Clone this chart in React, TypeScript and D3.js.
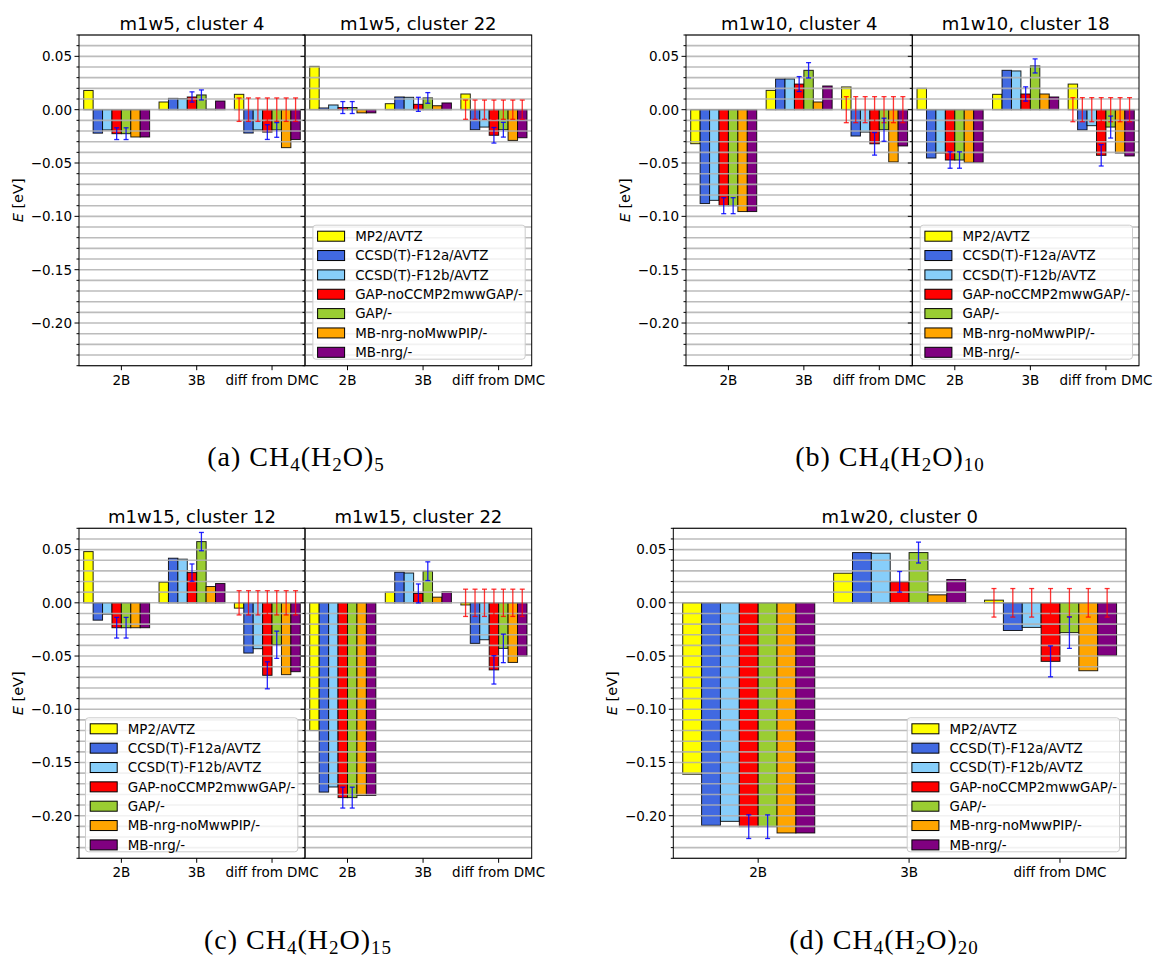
import React from "react";
import * as d3 from "d3";

// ---- series and categories ----
const seriesNames = [
  "MP2/AVTZ",
  "CCSD(T)-F12a/AVTZ",
  "CCSD(T)-F12b/AVTZ",
  "GAP-noCCMP2mwwGAP/-",
  "GAP/-",
  "MB-nrg-noMwwPIP/-",
  "MB-nrg/-",
];
const seriesColors = ["#ffff00", "#4169e1", "#87cefa", "#ff0000", "#9acd32", "#ffa500", "#800080"];
const groupLabels = ["2B", "3B", "diff from DMC"];
const yMajorTicks = [0.05, 0.0, -0.05, -0.1, -0.15, -0.2];

// ---- energies [eV]: rows = 2B, 3B, diff from DMC; columns = series ----
// GAP uncertainties are for the two GAP series (columns 3 and 4); DMC error is for the diff group.
const m1w5c4Values = [
  [0.018, -0.022, -0.019, -0.0225, -0.0225, -0.0256, -0.0256],
  [0.0072, 0.0106, 0.0103, 0.0119, 0.0138, 0.0004, 0.0081],
  [0.0144, -0.0219, -0.019, -0.021, -0.019, -0.0356, -0.028],
];
const m1w5c4GapErr = [[0.0055, 0.0055], [0.0048, 0.0047], [0.0069, 0.0069]];
const m1w5c4DmcErr = 0.011;

const m1w5c22Values = [
  [0.0406, 0.0016, 0.0044, 0.002, 0.002, -0.003, -0.003],
  [0.0056, 0.0119, 0.0116, 0.005, 0.011, 0.0037, 0.0063],
  [0.0147, -0.0188, -0.0163, -0.024, -0.0188, -0.0288, -0.0263],
];
const m1w5c22GapErr = [[0.0056, 0.0056], [0.0066, 0.005], [0.0073, 0.0069]];
const m1w5c22DmcErr = 0.009;

const m1w10c4Values = [
  [-0.0319, -0.088, -0.085, -0.09, -0.09, -0.0955, -0.0955],
  [0.0181, 0.0288, 0.0288, 0.024, 0.0369, 0.0072, 0.0222],
  [0.0213, -0.0247, -0.021, -0.032, -0.0188, -0.049, -0.034],
];
const m1w10c4GapErr = [[0.0075, 0.0075], [0.007, 0.0072], [0.0106, 0.0108]];
const m1w10c4DmcErr = 0.0122;

const m1w10c18Values = [
  [0.02, -0.0453, -0.0406, -0.0472, -0.0472, -0.0494, -0.0494],
  [0.0144, 0.0369, 0.0363, 0.0147, 0.041, 0.0147, 0.0119],
  [0.024, -0.019, -0.015, -0.0428, -0.0163, -0.0406, -0.0434],
];
const m1w10c18GapErr = [[0.0077, 0.0077], [0.0067, 0.0066], [0.01, 0.0103]];
const m1w10c18DmcErr = 0.0113;

const m1w15c12Values = [
  [0.0481, -0.0163, -0.0106, -0.0234, -0.0234, -0.0234, -0.0234],
  [0.0194, 0.0419, 0.041, 0.0284, 0.0575, 0.0153, 0.0181],
  [-0.005, -0.0472, -0.0431, -0.0681, -0.0394, -0.0675, -0.0647],
];
const m1w15c12GapErr = [[0.0097, 0.0097], [0.0081, 0.0086], [0.0127, 0.0128]];
const m1w15c12DmcErr = 0.0114;

const m1w15c22Values = [
  [-0.12, -0.1778, -0.173, -0.183, -0.183, -0.181, -0.181],
  [0.01, 0.0288, 0.028, 0.0088, 0.0297, 0.0053, 0.0106],
  [-0.002, -0.0381, -0.0347, -0.063, -0.0428, -0.056, -0.05],
];
const m1w15c22GapErr = [[0.0098, 0.0098], [0.0089, 0.0088], [0.0133, 0.0134]];
const m1w15c22DmcErr = 0.0128;

const m1w20c0Values = [
  [-0.161, -0.209, -0.2053, -0.2103, -0.2103, -0.2162, -0.2162],
  [0.0278, 0.0472, 0.0466, 0.0197, 0.0472, 0.0075, 0.0219],
  [0.0025, -0.026, -0.0231, -0.055, -0.028, -0.0638, -0.0494],
];
const m1w20c0GapErr = [[0.0111, 0.0111], [0.0097, 0.0098], [0.0145, 0.0148]];
const m1w20c0DmcErr = 0.0134;

// ---- layout ----
const FONT = "DejaVu Sans";
const BAR_W = 0.125;
const TICK_SHIFT = 0.0625;
const Y_DOMAIN: [number, number] = [-0.24, 0.07];
const gridValues = d3.range(-24, 8).map((k) => k / 100);

type LegendPos = "lower right" | "lower left" | null;

type SubplotProps = {
  title: string;
  values: number[][];
  gapErr: number[][];
  dmcErr: number;
  x0: number;
  x1: number;
  top: number;
  bottom: number;
  yLabels: boolean;
  legend: LegendPos;
};

function fmtTick(v: number) {
  const s = Math.abs(v).toFixed(2);
  return v < -1e-9 ? "\u2212" + s : s;
}

function Legend({ left, top }: { left: number; top: number }) {
  const w = 212.3;
  const h = 134;
  return (
    <g>
      <rect x={left} y={top} width={w} height={h} rx={3} fill="#ffffff" fillOpacity={0.8} stroke="#cccccc" strokeWidth={1} />
      {seriesNames.map((name, k) => {
        const cy = top + 11 + k * 19.35;
        return (
          <g key={name}>
            <rect x={left + 4.7} y={cy - 5} width={27} height={10} fill={seriesColors[k]} stroke="#000" strokeWidth={1} />
            <text x={left + 42.3} y={cy} dy="0.36em" fontFamily={FONT} fontSize={13.4} fill="#000">
              {name}
            </text>
          </g>
        );
      })}
    </g>
  );
}

function Subplot(p: SubplotProps) {
  const x = d3.scaleLinear().domain([-0.5, 2.5]).range([p.x0, p.x1]);
  const y = d3.scaleLinear().domain(Y_DOMAIN).range([p.bottom, p.top]);
  const bw = x(BAR_W) - x(0);
  const barX = (g: number, s: number) => x(g + (s - 3) * BAR_W);
  const cap = 2.5;

  const errBar = (cx: number, c: number, half: number, color: string, opacity: number, key: string) => (
    <g key={key} stroke={color} strokeOpacity={opacity} strokeWidth={1.3}>
      <line x1={cx} x2={cx} y1={y(c + half)} y2={y(c - half)} />
      <line x1={cx - cap} x2={cx + cap} y1={y(c + half)} y2={y(c + half)} />
      <line x1={cx - cap} x2={cx + cap} y1={y(c - half)} y2={y(c - half)} />
    </g>
  );

  const legendW = 212.3;
  const legendH = 134;
  let legendEl = null;
  if (p.legend === "lower right") legendEl = <Legend left={p.x1 - 6.5 - legendW} top={p.bottom - 6.5 - legendH} />;
  if (p.legend === "lower left") legendEl = <Legend left={p.x0 + 6.5} top={p.bottom - 6.5 - legendH} />;

  return (
    <g>
      {/* bars */}
      {p.values.map((row, g) =>
        row.map((v, s) => {
          const cx = barX(g, s);
          const y0 = y(0);
          const yv = y(v);
          return (
            <rect
              key={`b${g}-${s}`}
              x={cx - bw / 2}
              y={Math.min(y0, yv)}
              width={bw}
              height={Math.abs(yv - y0)}
              fill={seriesColors[s]}
              stroke="#000"
              strokeOpacity={0.85}
              strokeWidth={1}
            />
          );
        })
      )}
      {/* horizontal grid */}
      {gridValues.map((v) => (
        <line key={`g${v}`} x1={p.x0} x2={p.x1} y1={y(v)} y2={y(v)} stroke="#b0b0b0" strokeOpacity={0.85} strokeWidth={1.6} />
      ))}
      {/* DMC uncertainty on the diff group */}
      {seriesNames.map((_, s) => errBar(barX(2, s), 0, p.dmcErr, "#ff0000", 0.8, `d${s}`))}
      {/* GAP uncertainties */}
      {p.gapErr.map((pair, g) =>
        pair.map((e, k) => errBar(barX(g, 3 + k), p.values[g][3 + k], e, "#0000ff", 0.85, `e${g}-${k}`))
      )}
      {legendEl}
      {/* frame */}
      <rect x={p.x0} y={p.top} width={p.x1 - p.x0} height={p.bottom - p.top} fill="none" stroke="#000" strokeWidth={1} />
      {/* y ticks */}
      {gridValues.map((v) => {
        const major = yMajorTicks.some((t) => Math.abs(t - v) < 1e-9);
        return (
          <line key={`yt${v}`} x1={p.x0 - (major ? 4.5 : 2.5)} x2={p.x0} y1={y(v)} y2={y(v)} stroke="#000" strokeWidth={1} />
        );
      })}
      {p.yLabels &&
        yMajorTicks.map((v) => (
          <text key={`yl${v}`} x={p.x0 - 7} y={y(v)} dy="0.36em" textAnchor="end" fontFamily={FONT} fontSize={13.5} fill="#000">
            {fmtTick(v)}
          </text>
        ))}
      {/* x ticks */}
      {groupLabels.map((lab, g) => (
        <g key={lab}>
          <line x1={x(g + TICK_SHIFT)} x2={x(g + TICK_SHIFT)} y1={p.bottom} y2={p.bottom + 4.5} stroke="#000" strokeWidth={1} />
          <text x={x(g + TICK_SHIFT)} y={p.bottom + 19} textAnchor="middle" fontFamily={FONT} fontSize={13.5} fill="#000">
            {lab}
          </text>
        </g>
      ))}
      {/* title */}
      <text x={(p.x0 + p.x1) / 2} y={p.top - 5.5} textAnchor="middle" fontFamily={FONT} fontSize={18} fill="#000">
        {p.title}
      </text>
    </g>
  );
}

function YLabel({ x, top, bottom }: { x: number; top: number; bottom: number }) {
  return (
    <text
      transform={`translate(${x},${(top + bottom) / 2}) rotate(-90)`}
      textAnchor="middle"
      dy="0.36em"
      fontFamily={FONT}
      fontSize={14.5}
      fill="#000"
    >
      <tspan fontStyle="italic">E</tspan> [eV]
    </text>
  );
}

function Caption({ cx, y, letter, n }: { cx: number; y: number; letter: string; n: string }) {
  const subSize = 19;
  const subDy = 5;
  return (
    <text x={cx} y={y} textAnchor="middle" fontFamily="Liberation Serif" fontSize={28} fill="#000" letterSpacing={1}>
      <tspan>{`(${letter}) CH`}</tspan>
      <tspan fontSize={subSize} dy={subDy}>4</tspan>
      <tspan dy={-subDy}>(H</tspan>
      <tspan fontSize={subSize} dy={subDy}>2</tspan>
      <tspan dy={-subDy}>O)</tspan>
      <tspan fontSize={subSize} dy={subDy}>{n}</tspan>
    </text>
  );
}

export default function App() {
  const topA = 35;
  const botA = 365.7;
  const topC = 528.3;
  const botC = 858.3;
  return (
    <div style={{ position: "absolute", left: 0, top: 0 }}>
      <svg width={1157} height={962} viewBox="0 0 1157 962" style={{ display: "block", background: "#fff" }}>
        <rect width={1157} height={962} fill="#fff" />

        {/* (a) */}
        <YLabel x={17.5} top={topA} bottom={botA} />
        <Subplot title="m1w5, cluster 4" values={m1w5c4Values} gapErr={m1w5c4GapErr} dmcErr={m1w5c4DmcErr}
          x0={79} x1={305} top={topA} bottom={botA} yLabels={true} legend={null} />
        <Subplot title="m1w5, cluster 22" values={m1w5c22Values} gapErr={m1w5c22GapErr} dmcErr={m1w5c22DmcErr}
          x0={305} x1={531.7} top={topA} bottom={botA} yLabels={false} legend="lower right" />

        {/* (b) */}
        <YLabel x={624.5} top={topA} bottom={botA} />
        <Subplot title="m1w10, cluster 4" values={m1w10c4Values} gapErr={m1w10c4GapErr} dmcErr={m1w10c4DmcErr}
          x0={686} x1={912.3} top={topA} bottom={botA} yLabels={true} legend={null} />
        <Subplot title="m1w10, cluster 18" values={m1w10c18Values} gapErr={m1w10c18GapErr} dmcErr={m1w10c18DmcErr}
          x0={912.3} x1={1139} top={topA} bottom={botA} yLabels={false} legend="lower right" />

        {/* (c) */}
        <YLabel x={17.5} top={topC} bottom={botC} />
        <Subplot title="m1w15, cluster 12" values={m1w15c12Values} gapErr={m1w15c12GapErr} dmcErr={m1w15c12DmcErr}
          x0={79} x1={305} top={topC} bottom={botC} yLabels={true} legend="lower left" />
        <Subplot title="m1w15, cluster 22" values={m1w15c22Values} gapErr={m1w15c22GapErr} dmcErr={m1w15c22DmcErr}
          x0={305} x1={531.7} top={topC} bottom={botC} yLabels={false} legend={null} />

        {/* (d) */}
        <YLabel x={611.8} top={topC} bottom={botC} />
        <Subplot title="m1w20, cluster 0" values={m1w20c0Values} gapErr={m1w20c0GapErr} dmcErr={m1w20c0DmcErr}
          x0={673.3} x1={1126} top={topC} bottom={botC} yLabels={true} legend="lower right" />

        <Caption cx={296} y={466} letter="a" n="5" />
        <Caption cx={890} y={466} letter="b" n="10" />
        <Caption cx={298} y={949} letter="c" n="15" />
        <Caption cx={884} y={949} letter="d" n="20" />
      </svg>
    </div>
  );
}
